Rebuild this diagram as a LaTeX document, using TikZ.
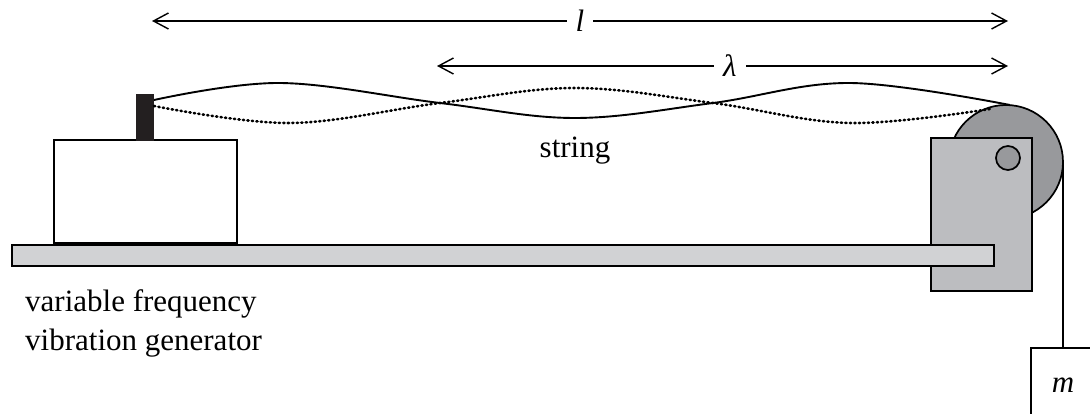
\documentclass[tikz,border=0pt]{standalone}
\usepackage{fontspec}
\setmainfont{Liberation Serif}
\usetikzlibrary{arrows.meta}
\definecolor{plank}{HTML}{D1D2D4}
\definecolor{bracket}{HTML}{BCBDC0}
\definecolor{pulley}{HTML}{98999C}
\definecolor{post}{HTML}{231F20}
\tikzset{
  outline/.style={draw=black,line width=1.7pt},
  dimarrow/.style={line width=1.4pt,{Straight Barb[length=15pt,width=16pt,line width=1.4pt]}-{Straight Barb[length=15pt,width=16pt,line width=1.4pt]}},
  dimlabel/.style={fill=white,inner xsep=9pt,inner ysep=2pt,font=\fontsize{31}{31}\selectfont\itshape},
  lbl/.style={font=\fontsize{31}{39}\selectfont,inner sep=0pt},
  stringline/.style={line width=1.9pt},
  stringdot/.style={line width=2.6pt,line cap=round,dash pattern=on 1.2pt off 3.3pt},
}
\begin{document}
\begin{tikzpicture}[x=1pt,y=-1pt]
\useasboundingbox (0,0) rectangle (1090,414);
\clip (0,0) rectangle (1090,414);
% dimension arrows
\coordinate (lA) at (152,21);
\coordinate (lB) at (1008,21);
\draw[dimarrow] (lA) -- node[dimlabel,pos=0.5]{l} (lB);
\coordinate (kA) at (437,66);
\coordinate (kB) at (1008,66);
\draw[dimarrow] (kA) -- node[dimlabel,pos=0.513]{λ} (kB);
% pulley
\node[outline,fill=pulley,circle,minimum size=114pt,inner sep=0pt] (pul) at (1006,162) {};
% bracket
\node[outline,fill=bracket,rectangle,minimum width=101pt,minimum height=153pt,inner sep=0pt,anchor=north west] (brk) at (930,137) {};
\node[outline,fill=pulley,circle,minimum size=24pt,inner sep=0pt] (axle) at (1008,158) {};
% plank
\node[outline,fill=plank,rectangle,minimum width=982pt,minimum height=21pt,inner sep=0pt,anchor=north west] (plk) at (11,244) {};
% generator
\node[outline,fill=white,rectangle,minimum width=183pt,minimum height=103pt,inner sep=0pt,anchor=south west] (gen) at (53,244) {};
\node[fill=post,rectangle,minimum width=18pt,minimum height=47pt,inner sep=0pt,anchor=south west] (pst) at (136,141) {};
% mass
\node[outline,fill=white,rectangle,minimum width=80pt,minimum height=80pt,inner sep=0pt,anchor=north west] (mass) at (1030,347) {};
\node[font=\fontsize{31}{31}\selectfont\itshape,anchor=base] (mlab) at (1063,392) {m};
% strings
\coordinate (s0) at (154,100);
\coordinate (s1) at (1010,105);
\coordinate (d0) at (154,106);
\coordinate (d1) at (990,109);
\draw[stringline] plot[smooth,tension=0.6] coordinates {(s0) (280,83) (440,103) (575,118) (713,103) (850,83) (s1)};
\draw[stringdot] plot[smooth,tension=0.6] coordinates {(d0) (290,123) (440,103) (575,88) (713,103) (850,123) (d1)};
\coordinate (hang) at (1063,162);
\draw[stringline] (hang) -- (hang |- mass.north);
% labels
\node[lbl,anchor=base] (strlab) at (575,158) {string};
\node[lbl,anchor=base west,align=left] (genlab) at (25,350) {variable frequency\\vibration generator};
\end{tikzpicture}
\end{document}
